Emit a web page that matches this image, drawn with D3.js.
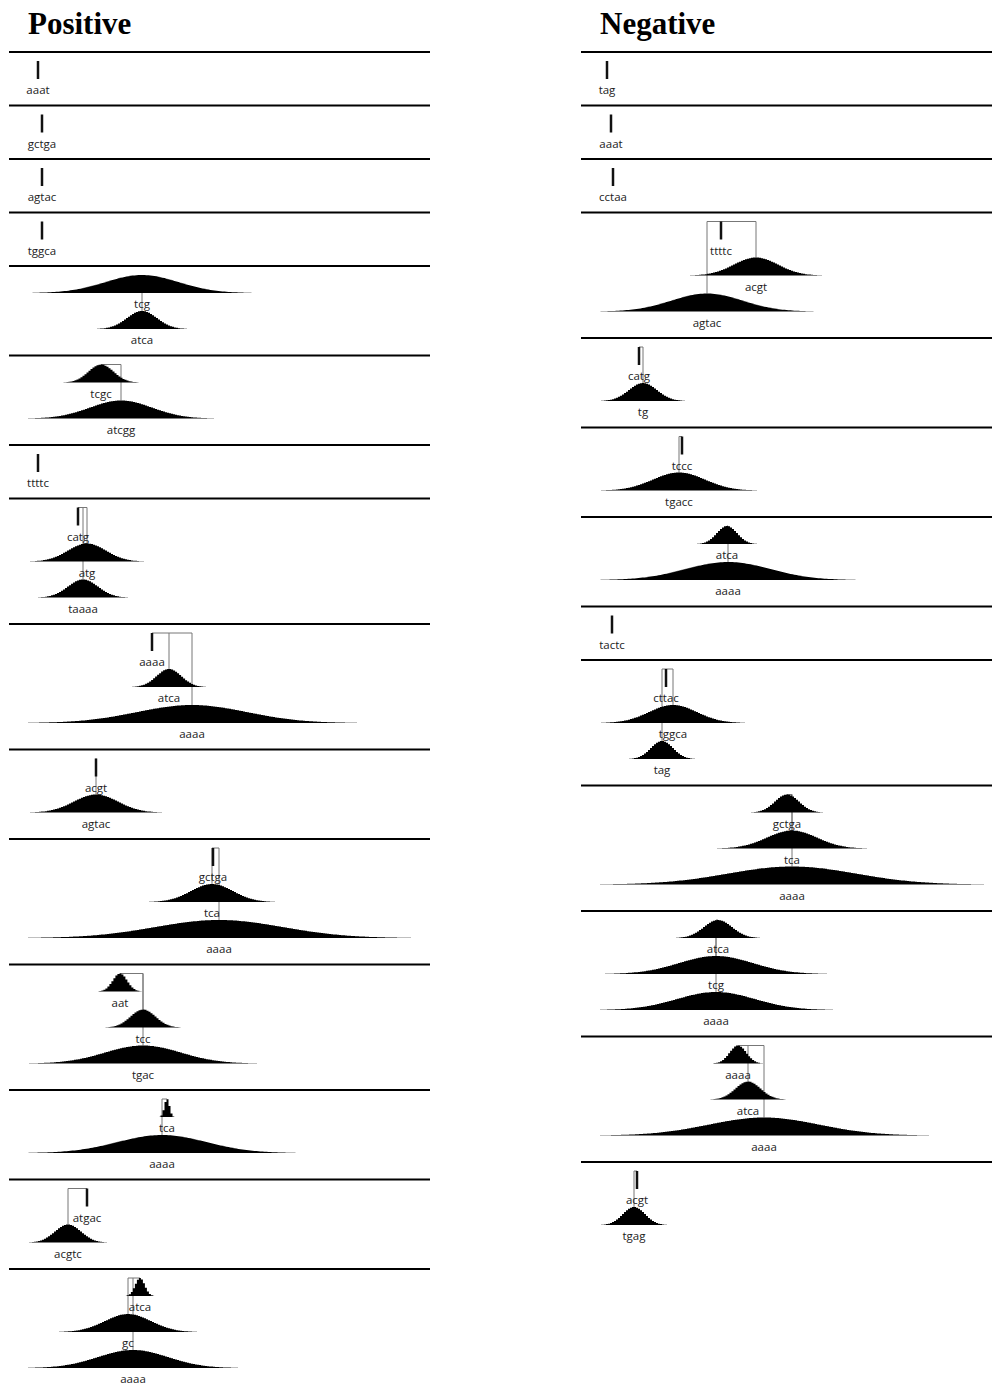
<!DOCTYPE html>
<html>
<head>
<meta charset="utf-8">
<script src="https://cdnjs.cloudflare.com/ajax/libs/d3/7.8.5/d3.min.js"></script>
<style>
  body { margin: 0; background: #fff; }
  svg { display: block; }
</style>
</head>
<body>
<svg id="chart" width="992" height="1387"></svg>
<script>
// Each row is a stack of levels (top to bottom). sd = 0 means a point value, drawn as a bar.
const positiveLabels = [
  ['aaat'], ['gctga'], ['agtac'], ['tggca'],
  ['tcg', 'atca'], ['tcgc', 'atcgg'], ['ttttc'],
  ['catg', 'atg', 'taaaa'], ['aaaa', 'atca', 'aaaa'],
  ['acgt', 'agtac'], ['gctga', 'tca', 'aaaa'],
  ['aat', 'tcc', 'tgac'], ['tca', 'aaaa'], ['atgac', 'acgtc'],
  ['atca', 'gc', 'aaaa']
];
const positiveMeans = [
  [10], [14], [14], [14],
  [114, 114], [73, 93], [10],
  [50, 59, 55], [124, 141, 164],
  [68, 68], [185, 184, 191],
  [92, 115, 115], [139, 134], [59, 40],
  [112, 100, 105]
];
const positiveSds = [
  [0], [0], [0], [0],
  [36.5, 15], [12.5, 31], [0],
  [0, 19, 15], [0, 12.3, 55],
  [0, 22], [0, 21, 64],
  [7.2, 12.5, 38], [2.5, 44.5], [0, 13],
  [4.7, 23, 35]
];

const negativeLabels = [
  ['tag'], ['aaat'], ['cctaa'],
  ['ttttc', 'acgt', 'agtac'], ['catg', 'tg'], ['tccc', 'tgacc'],
  ['atca', 'aaaa'], ['tactc'], ['cttac', 'tggca', 'tag'],
  ['gctga', 'tca', 'aaaa'], ['atca', 'tcg', 'aaaa'],
  ['aaaa', 'atca', 'aaaa'], ['acgt', 'tgag']
];
const negativeMeans = [
  [7], [11], [13],
  [121, 156, 107], [39, 43], [82, 79],
  [127, 128], [12], [66, 73, 62],
  [187, 192, 192], [118, 116, 116],
  [138, 148, 164], [37, 34]
];
const negativeSds = [
  [0], [0], [0],
  [0, 22, 35.5], [0, 14], [0, 26],
  [10, 42.5], [0], [0, 24, 11],
  [12, 25, 64], [14, 37, 39],
  [8.3, 12.5, 55], [0, 11]
];

const svg = d3.select('#chart');
const firstTop = 52;
const levelH = 36;     // vertical space per level
const rowPad = 17.5;   // extra space per row
const peakH = 18;      // height of every bell / bar

function drawColumn(title, labels, means, sds, x0, ruleLeft, ruleRight) {
  const g = svg.append('g');
  const x = d3.scaleLinear().domain([0, 400]).range([x0, x0 + 400]);

  g.append('text')
    .attr('x', x0)
    .attr('y', 34)
    .text(title)
    .style('font-family', '"Liberation Serif", "Times New Roman", serif')
    .style('font-weight', 'bold')
    .style('font-size', '31px')
    .style('fill', '#000');

  // row top positions
  const tops = [];
  let t = firstTop;
  labels.forEach(r => { tops.push(t); t += rowPad + levelH * r.length; });

  labels.forEach((rowLabels, ri) => {
    const top = tops[ri];
    const row = g.append('g');
    const levels = rowLabels.map((lab, k) => ({ label: lab, mu: means[ri][k], sd: sds[ri][k], k }));

    // rule above the row
    row.append('line')
      .attr('x1', ruleLeft).attr('x2', ruleRight)
      .attr('y1', top).attr('y2', top)
      .attr('stroke', '#000')
      .attr('stroke-width', 2);

    const peakY = k => top + 9 + levelH * k;

    // connectors: bracket across the top, vertical drops to each lower level
    if (levels.length > 1) {
      const ext = d3.extent(levels, d => d.mu);
      row.append('line')
        .attr('x1', x(ext[0])).attr('x2', x(ext[1]))
        .attr('y1', peakY(0)).attr('y2', peakY(0))
        .attr('stroke', '#777').attr('stroke-width', 1);
      row.selectAll('.drop')
        .data(levels.filter(d => d.k > 0))
        .enter()
        .append('line')
        .attr('class', 'drop')
        .attr('x1', d => x(d.mu)).attr('x2', d => x(d.mu))
        .attr('y1', peakY(0))
        .attr('y2', d => peakY(d.k))
        .attr('stroke', '#777').attr('stroke-width', 1);
    }

    levels.forEach(d => {
      const base = peakY(d.k) + peakH;
      const y = d3.scaleLinear().domain([0, 1]).range([base, base - peakH]);
      if (d.sd === 0) {
        row.append('line')
          .attr('x1', x(d.mu)).attr('x2', x(d.mu))
          .attr('y1', y(1)).attr('y2', y(0))
          .attr('stroke', '#111')
          .attr('stroke-width', 2.5);
      } else {
        const lo = Math.max(0, d.mu - 3 * d.sd);
        const hi = d.mu + 3 * d.sd;
        const pts = d3.range(lo, hi, 2).concat([hi]);
        const area = d3.area()
          .x(v => x(v))
          .y0(y(0))
          .y1(v => y(Math.exp(-0.5 * Math.pow((v - d.mu) / d.sd, 2))))
          .curve(d3.curveStep);
        row.append('path')
          .attr('d', area(pts))
          .attr('fill', '#000');
      }
      row.append('text')
        .attr('x', x(d.mu))
        .attr('y', base + 15)
        .text(d.label)
        .style('text-anchor', 'middle')
        .style('font-family', '"Open Sans", "Noto Sans", sans-serif')
        .style('font-size', '11.5px')
        .style('fill', '#222');
    });
  });
}

drawColumn('Positive', positiveLabels, positiveMeans, positiveSds, 28, 9, 430);
drawColumn('Negative', negativeLabels, negativeMeans, negativeSds, 600, 581, 992);
</script>
</body>
</html>
